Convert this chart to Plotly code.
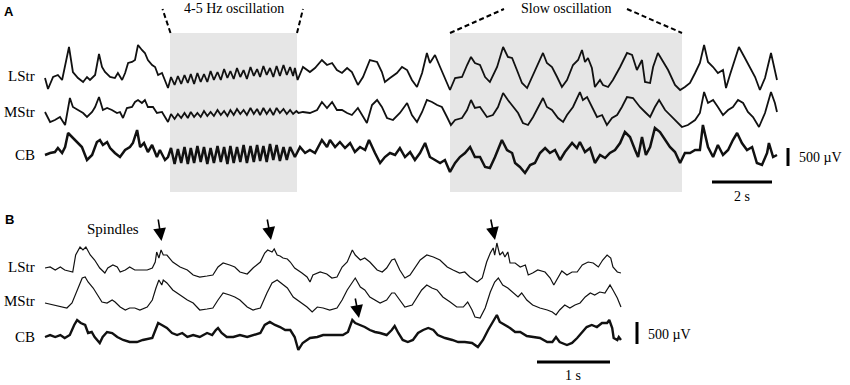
import plotly.graph_objects as go

# ---------------- data: (time s, amplitude uV) breakpoints ----------------
A_LSTR = [(0.0,-28),(0.1,-333),(0.27,0),(0.43,56),(0.57,-83),(0.8,833),(0.93,139),(1.1,-28),(1.27,-139),(1.4,0),(1.5,-83),(1.67,56),(1.8,639),(1.9,278),(2.0,139),(2.17,0),(2.33,-28),(2.43,111),(2.57,-83),(2.67,111),(2.77,389),(2.9,417),(3.0,472),(3.1,889),(3.23,750),(3.33,667),(3.43,472),(3.57,333),(3.67,278),(3.77,56),(3.9,111),(4.0,-83),(4.1,-306),
 (4.2,0),(4.32,-222),(4.43,28),(4.54,-194),(4.65,56),(4.76,-167),(4.86,83),(4.97,-194),(5.08,111),(5.19,-139),(5.3,83),(5.41,-139),(5.52,167),(5.63,-83),(5.75,139),(5.86,-83),(5.97,222),(6.08,-28),(6.18,167),(6.29,-56),(6.4,250),(6.51,0),(6.62,194),(6.73,-56),(6.85,278),(6.96,28),(7.07,222),(7.17,0),(7.28,306),(7.39,56),(7.5,250),(7.61,0),(7.72,306),(7.83,28),(7.95,333),(8.06,56),(8.17,278),(8.27,28),(8.33,250),(8.42,-83),
 (8.6,278),(8.83,139),(9.0,250),(9.23,472),(9.4,333),(9.57,389),(9.73,194),(9.9,111),(10.07,250),(10.23,139),(10.43,-222),(10.6,0),(10.83,472),(11.07,417),(11.23,139),(11.33,-139),(11.5,-28),(11.73,111),(11.9,278),(12.07,194),(12.23,-83),(12.4,-278),(12.57,111),(12.73,667),(12.83,389),(13.0,611),(13.17,278),(13.33,-28),(13.5,-361),(13.67,-28),(13.9,0),(14.07,333),(14.2,556),(14.33,389),(14.5,333),(14.67,0),(14.83,-139),(15.07,278),(15.27,833),(15.43,556),(15.57,528),(15.73,194),(15.9,-167),(16.07,-306),(16.27,56),(16.43,389),(16.6,667),(16.73,389),(16.9,278),(17.07,0),(17.23,-278),(17.4,-83),(17.6,333),(17.77,472),(17.9,750),(18.0,417),(18.1,528),(18.23,250),(18.33,-278),(18.5,-83),(18.6,-222),(18.77,-278),(18.93,-83),(19.17,278),(19.4,667),(19.57,611),(19.73,194),(19.9,472),(20.0,-139),(20.17,-167),(20.27,278),(20.43,667),(20.6,417),(20.77,194),(21.0,-222),(21.17,-361),(21.33,-278),(21.5,-167),(21.67,111),(21.83,389),(21.97,889),(22.1,417),(22.27,278),(22.43,111),(22.6,194),(22.7,-306),(22.83,56),(23.0,472),(23.13,833),(23.33,528),(23.5,278),(23.67,0),(23.83,-361),(24.0,-28),(24.2,667),(24.33,194),(24.4,-83)]

A_MSTR = [(0.0,28),(0.17,-250),(0.33,-194),(0.5,-111),(0.67,-333),(0.83,417),(0.93,167),(1.1,83),(1.27,0),(1.4,-111),(1.57,28),(1.67,167),(1.8,444),(1.93,83),(2.07,139),(2.23,83),(2.4,0),(2.5,28),(2.6,-139),(2.73,139),(2.9,167),(3.0,306),(3.1,361),(3.23,278),(3.33,361),(3.43,167),(3.6,167),(3.73,0),(3.9,28),(4.0,-111),(4.1,-250),
 (4.2,-28),(4.32,-167),(4.43,-28),(4.54,-139),(4.65,0),(4.76,-139),(4.86,28),(4.97,-111),(5.08,0),(5.19,-111),(5.3,56),(5.41,-83),(5.52,28),(5.63,-83),(5.75,83),(5.86,-56),(5.97,56),(6.08,-83),(6.18,83),(6.29,-56),(6.4,111),(6.51,-28),(6.62,83),(6.73,-56),(6.85,139),(6.96,-28),(7.07,111),(7.17,-56),(7.28,139),(7.39,-28),(7.5,111),(7.61,-56),(7.72,139),(7.83,0),(7.95,111),(8.06,-28),(8.17,83),(8.27,-28),(8.38,56),(8.45,0),
 (8.6,28),(8.83,0),(9.07,83),(9.23,306),(9.4,139),(9.57,306),(9.73,83),(9.9,83),(10.07,0),(10.23,-56),(10.43,139),(10.6,-111),(10.73,-278),(10.9,222),(11.07,361),(11.23,167),(11.4,-139),(11.6,-194),(11.83,0),(12.07,278),(12.23,-56),(12.4,-250),(12.57,28),(12.73,361),(12.9,306),(13.07,222),(13.23,167),(13.4,-111),(13.53,-333),(13.67,-194),(13.9,-139),(14.07,83),(14.2,361),(14.33,139),(14.5,167),(14.73,-111),(14.93,-56),(15.1,167),(15.27,556),(15.43,361),(15.6,167),(15.77,0),(15.93,-278),(16.1,-333),(16.27,-111),(16.43,167),(16.6,417),(16.73,167),(16.9,83),(17.1,-139),(17.27,-250),(17.4,-56),(17.6,167),(17.83,583),(17.93,361),(18.07,444),(18.23,167),(18.4,-111),(18.57,-56),(18.73,-333),(18.9,-139),(19.07,-56),(19.23,167),(19.4,444),(19.6,417),(19.83,167),(20.0,28),(20.17,-111),(20.33,167),(20.47,361),(20.67,83),(20.83,-56),(21.07,-278),(21.23,-389),(21.43,-333),(21.67,-194),(21.83,0),(21.97,583),(22.1,278),(22.27,361),(22.43,167),(22.6,-56),(22.77,83),(22.93,167),(23.1,361),(23.27,278),(23.43,28),(23.6,-111),(23.8,-389),(24.0,0),(24.2,583),(24.33,278),(24.4,28)]

A_CB = [(0.0,0),(0.17,56),(0.33,83),(0.43,194),(0.57,56),(0.67,222),(0.77,611),(0.9,500),(1.07,333),(1.23,222),(1.4,-139),(1.57,0),(1.73,361),(1.83,417),(1.93,278),(2.07,361),(2.17,194),(2.33,56),(2.5,-56),(2.67,139),(2.83,222),(2.93,333),(3.07,694),(3.17,222),(3.3,333),(3.43,83),(3.57,278),(3.73,-56),(3.83,139),(4.0,-139),(4.1,-56),
 (4.2,194),(4.32,-250),(4.43,167),(4.54,-222),(4.65,222),(4.76,-250),(4.86,194),(4.97,-222),(5.08,250),(5.19,-194),(5.3,222),(5.41,-250),(5.52,194),(5.63,-222),(5.75,250),(5.86,-194),(5.97,222),(6.08,-250),(6.18,250),(6.29,-222),(6.4,222),(6.51,-194),(6.62,278),(6.73,-222),(6.85,250),(6.96,-194),(7.07,278),(7.17,-167),(7.28,250),(7.39,-194),(7.5,306),(7.61,-139),(7.72,278),(7.83,-167),(7.95,222),(8.06,-139),(8.17,222),(8.33,-56),(8.5,222),
 (8.67,56),(8.83,139),(9.0,56),(9.23,417),(9.4,222),(9.5,417),(9.67,222),(9.83,361),(10.0,194),(10.17,333),(10.33,83),(10.5,222),(10.67,139),(10.8,417),(11.0,56),(11.17,-222),(11.33,-56),(11.5,56),(11.67,0),(11.83,194),(12.0,-56),(12.17,83),(12.33,-139),(12.5,56),(12.67,333),(12.83,-56),(13.0,-139),(13.17,-222),(13.33,-139),(13.5,-472),(13.67,-222),(13.83,-56),(14.0,56),(14.17,222),(14.33,-56),(14.5,-56),(14.67,-333),(14.83,-361),(15.0,-56),(15.23,417),(15.4,139),(15.57,56),(15.67,-222),(15.83,-333),(16.0,-500),(16.17,-278),(16.33,-222),(16.5,56),(16.67,194),(16.83,56),(17.0,139),(17.17,-139),(17.33,83),(17.57,333),(17.73,194),(17.83,361),(18.0,83),(18.17,194),(18.33,-222),(18.5,0),(18.67,-83),(18.83,56),(19.0,139),(19.17,333),(19.33,639),(19.5,500),(19.67,139),(19.77,-56),(19.9,500),(20.03,0),(20.17,222),(20.33,750),(20.5,639),(20.67,417),(20.83,222),(21.0,83),(21.17,-222),(21.33,56),(21.5,56),(21.67,139),(21.83,139),(21.93,833),(22.1,222),(22.27,-56),(22.43,278),(22.6,0),(22.77,139),(22.93,417),(23.07,611),(23.23,333),(23.4,139),(23.57,222),(23.73,-222),(23.9,-278),(24.07,56),(24.13,333),(24.27,-56),(24.4,0)]

B_LSTR = [(0,0),(0.07,23),(0.14,-45),(0.21,23),(0.27,-45),(0.34,-68),(0.38,-91),(0.42,295),(0.48,477),(0.52,409),(0.56,477),(0.62,295),(0.68,182),(0.75,0),(0.82,-114),(0.86,0),(0.93,68),(0.99,23),(1.03,-91),(1.10,-45),(1.16,23),(1.23,-45),(1.30,-45),(1.40,-45),(1.47,0),(1.51,136),(1.53,364),(1.56,227),(1.59,409),(1.62,295),(1.67,295),(1.75,136),(1.85,23),(1.95,-45),(2.03,-159),(2.12,-205),(2.22,-182),(2.30,-159),(2.37,23),(2.44,114),(2.53,68),(2.60,23),(2.67,-91),(2.77,-136),(2.85,0),(2.95,136),(3.01,341),(3.05,409),(3.11,364),(3.14,432),(3.18,295),(3.22,273),(3.26,227),(3.32,205),(3.36,136),(3.42,0),(3.52,-114),(3.59,-205),(3.63,-318),(3.67,-159),(3.77,-91),(3.86,-136),(3.93,-227),(4.00,-205),(4.07,23),(4.14,136),(4.21,409),(4.25,295),(4.32,182),(4.38,227),(4.45,136),(4.55,-45),(4.62,-91),(4.68,0),(4.75,182),(4.79,205),(4.86,-45),(4.93,-227),(5.00,-159),(5.07,23),(5.14,182),(5.23,295),(5.32,250),(5.41,182),(5.51,23),(5.59,-45),(5.68,-114),(5.75,-91),(5.82,-205),(5.92,-318),(5.99,-227),(6.05,136),(6.10,341),(6.14,455),(6.16,295),(6.19,568),(6.23,295),(6.27,364),(6.30,250),(6.34,364),(6.37,114),(6.44,114),(6.51,23),(6.58,68),(6.62,-159),(6.68,-114),(6.75,-45),(6.85,-91),(6.92,-227),(6.97,-386),(7.03,-205),(7.08,-68),(7.15,-159),(7.22,-91),(7.29,-91),(7.36,68),(7.44,136),(7.51,114),(7.58,23),(7.64,182),(7.70,295),(7.75,227),(7.78,23),(7.84,-91),(7.89,-114)]

B_MSTR = [(0,-23),(0.11,-68),(0.21,-114),(0.30,-136),(0.37,-23),(0.44,273),(0.51,545),(0.55,568),(0.59,455),(0.66,318),(0.73,114),(0.78,0),(0.85,-23),(0.92,45),(0.96,0),(1.03,-114),(1.10,-182),(1.16,-136),(1.23,-136),(1.30,-182),(1.40,-114),(1.47,45),(1.52,318),(1.56,500),(1.60,386),(1.62,500),(1.67,432),(1.75,273),(1.85,159),(1.95,45),(2.03,-23),(2.12,-182),(2.22,-159),(2.30,-136),(2.37,45),(2.44,205),(2.53,159),(2.60,114),(2.67,45),(2.77,-114),(2.85,-182),(2.95,-136),(3.04,205),(3.11,432),(3.18,500),(3.25,409),(3.32,318),(3.40,114),(3.49,0),(3.59,-114),(3.66,-227),(3.73,-114),(3.81,-136),(3.90,-182),(4.00,-136),(4.07,45),(4.14,273),(4.21,432),(4.25,545),(4.32,341),(4.38,273),(4.45,114),(4.52,45),(4.59,-23),(4.68,45),(4.75,205),(4.79,205),(4.86,45),(4.93,-114),(5.03,-68),(5.10,114),(5.16,273),(5.23,386),(5.30,318),(5.37,273),(5.45,114),(5.55,0),(5.64,-114),(5.73,-114),(5.79,0),(5.85,-182),(5.89,-341),(5.96,-364),(6.03,-136),(6.10,227),(6.16,455),(6.21,545),(6.25,432),(6.27,386),(6.34,318),(6.41,205),(6.48,114),(6.53,205),(6.60,45),(6.68,-68),(6.78,-136),(6.88,-182),(6.95,-227),(7.00,-295),(7.05,-182),(7.12,-68),(7.19,-136),(7.26,-68),(7.33,-23),(7.40,114),(7.47,205),(7.53,159),(7.60,227),(7.67,205),(7.74,386),(7.78,273),(7.84,91),(7.89,-114)]

B_CB = [(0,0),(0.07,45),(0.14,0),(0.21,45),(0.27,-23),(0.34,45),(0.40,273),(0.44,386),(0.49,318),(0.55,273),(0.59,91),(0.64,114),(0.68,0),(0.75,-136),(0.79,0),(0.85,114),(0.92,91),(0.99,0),(1.07,-68),(1.16,-114),(1.26,-114),(1.34,-68),(1.47,-23),(1.51,159),(1.55,318),(1.60,273),(1.67,205),(1.74,91),(1.81,45),(1.88,91),(1.95,0),(2.03,45),(2.12,0),(2.22,91),(2.29,45),(2.34,159),(2.37,205),(2.42,91),(2.49,0),(2.58,0),(2.67,45),(2.77,0),(2.85,45),(2.95,91),(3.01,273),(3.08,341),(3.15,273),(3.22,227),(3.29,159),(3.36,159),(3.42,0),(3.47,-295),(3.53,-136),(3.63,-23),(3.73,0),(3.81,45),(3.90,45),(4.00,45),(4.08,45),(4.15,114),(4.21,386),(4.25,318),(4.32,273),(4.38,227),(4.45,159),(4.52,114),(4.59,91),(4.68,45),(4.75,159),(4.79,250),(4.84,91),(4.90,-68),(4.97,-114),(5.04,-68),(5.11,91),(5.18,159),(5.25,205),(5.32,159),(5.38,45),(5.48,-23),(5.58,-68),(5.66,-114),(5.75,-114),(5.85,-136),(5.93,-227),(6.00,-68),(6.07,159),(6.14,341),(6.19,500),(6.23,341),(6.30,273),(6.37,205),(6.44,114),(6.51,114),(6.60,23),(6.68,0),(6.78,-23),(6.88,-114),(6.95,-114),(7.00,0),(7.05,-114),(7.15,-182),(7.22,-136),(7.29,-23),(7.36,114),(7.42,227),(7.49,273),(7.56,227),(7.63,318),(7.70,318),(7.73,386),(7.77,205),(7.79,-23),(7.84,-68),(7.86,0),(7.89,-68)]

ROW_LABELS = ["LStr", "MStr", "CB"]

# ---------------- geometry / scales ----------------
W, H = 850, 385
UV_PX_A = 500 / 18.0   # panel A: 500 uV scale bar height in px
UV_PX_B = 500 / 22.0   # panel B
S_PX_A = 30.0          # panel A: px per second (2 s bar = 60 px)
S_PX_B = 73.0          # panel B: px per second
X0 = 45.0              # trace start (px)
SPLIT = 200.0          # px row separating panel A and B

OFF_A = [(SPLIT - 77) * UV_PX_A, (SPLIT - 113) * UV_PX_A, (SPLIT - 155) * UV_PX_A]
OFF_B = [(H - 268) * UV_PX_B, (H - 302) * UV_PX_B, (H - 337) * UV_PX_B]

fig = go.Figure()

def add(series, off, width, xa, ya):
    t = [p[0] for p in series]
    v = [p[1] + off for p in series]
    fig.add_trace(go.Scatter(x=t, y=v, mode="lines", xaxis=xa, yaxis=ya,
                             line=dict(color="#111111", width=width),
                             hoverinfo="skip", showlegend=False))

add(A_LSTR, OFF_A[0], 1.8, "x", "y")
add(A_MSTR, OFF_A[1], 1.8, "x", "y")
add(A_CB, OFF_A[2], 2.5, "x", "y")
add(B_LSTR, OFF_B[0], 1.2, "x2", "y2")
add(B_MSTR, OFF_B[1], 1.2, "x2", "y2")
add(B_CB, OFF_B[2], 2.4, "x2", "y2")

def ta(px):  # page px -> seconds, panel A
    return (px - X0) / S_PX_A
def va(py):  # page px -> uV, panel A
    return (SPLIT - py) * UV_PX_A
def tb(px):
    return (px - X0) / S_PX_B
def vb(py):
    return (H - py) * UV_PX_B

shapes = []
GRAY = "#e6e6e6"
for x0, x1 in [(170, 297), (450, 682)]:
    shapes.append(dict(type="rect", xref="x", yref="y", x0=ta(x0), x1=ta(x1),
                       y0=va(192), y1=va(33), fillcolor=GRAY, line=dict(width=0), layer="below"))
dash = dict(color="black", width=2, dash="5px,3px")
for (xa0, ya0, xa1, ya1) in [(170.5, 33, 162.5, 9), (297, 33, 303, 9), (450, 33, 504, 9), (627, 9, 682, 33)]:
    shapes.append(dict(type="line", xref="x", yref="y", x0=ta(xa0), y0=va(ya0),
                       x1=ta(xa1), y1=va(ya1), line=dash))
# scale bars
shapes.append(dict(type="line", xref="x", yref="y", x0=ta(788), x1=ta(788),
                   y0=va(166), y1=va(166) + 500, line=dict(color="black", width=3)))
shapes.append(dict(type="line", xref="x", yref="y", x0=ta(712), x1=ta(712) + 2,
                   y0=va(182), y1=va(182), line=dict(color="black", width=3)))
shapes.append(dict(type="line", xref="x2", yref="y2", x0=tb(637), x1=tb(637),
                   y0=vb(344), y1=vb(344) + 500, line=dict(color="black", width=3)))
shapes.append(dict(type="line", xref="x2", yref="y2", x0=tb(537), x1=tb(537) + 1,
                   y0=vb(362), y1=vb(362), line=dict(color="black", width=3)))

SERIF = "Liberation Serif, Times New Roman, serif"
ann = []
def text(s, x, y, size=15, xanchor="center", bold_sans=False):
    f = dict(family="Liberation Sans, Arial, sans-serif" if bold_sans else SERIF, size=size, color="black")
    ann.append(dict(text=s, x=x / W, y=1 - y / H, xref="paper", yref="paper", showarrow=False,
                    xanchor=xanchor, yanchor="middle", font=f))

text("<b>A</b>", 9, 11, size=13, bold_sans=True)
text("<b>B</b>", 9, 219, size=13, bold_sans=True)
for lab, y in zip(ROW_LABELS, [76, 112, 155]):
    text(lab, 37, y, xanchor="right")
for lab, y in zip(ROW_LABELS, [267, 301, 337]):
    text(lab, 37, y, xanchor="right")
text("4-5 Hz oscillation", 234, 8, size=14)
text("Slow oscillation", 566, 8, size=14)
text("500 µV", 797, 157, size=14, xanchor="left")
text("2 s", 742, 197, size=14)
text("500 µV", 646, 334, size=14, xanchor="left")
text("1 s", 573, 375, size=14)
text("Spindles", 113, 229, size=15)

# arrows (head, tail) in page px
for hx, hy, tx, ty in [(161.5, 241, 158, 218), (271, 240, 267, 218),
                        (495, 240, 490.5, 218), (359, 318, 355, 297)]:
    ann.append(dict(x=hx / W, y=1 - hy / H, xref="paper", yref="paper", ax=tx - hx, ay=ty - hy,
                    axref="pixel", ayref="pixel", showarrow=True, arrowhead=2, arrowsize=1.6,
                    arrowwidth=1.6, arrowcolor="black", text=""))

hidden = dict(visible=False, showgrid=False, zeroline=False, fixedrange=True)
fig.update_layout(
    width=W, height=H, margin=dict(l=0, r=0, t=0, b=0),
    paper_bgcolor="white", plot_bgcolor="white", hovermode=False,
    xaxis=dict(domain=[0, 1], range=[ta(0), ta(W)], anchor="y", **hidden),
    yaxis=dict(domain=[1 - SPLIT / H, 1], range=[0, SPLIT * UV_PX_A], anchor="x", **hidden),
    xaxis2=dict(domain=[0, 1], range=[tb(0), tb(W)], anchor="y2", **hidden),
    yaxis2=dict(domain=[0, 1 - SPLIT / H], range=[0, (H - SPLIT) * UV_PX_B], anchor="x2", **hidden),
    shapes=shapes, annotations=ann,
)

fig.write_html("out.html", config={"displayModeBar": False},
               post_script="document.body.style.margin='0';")
